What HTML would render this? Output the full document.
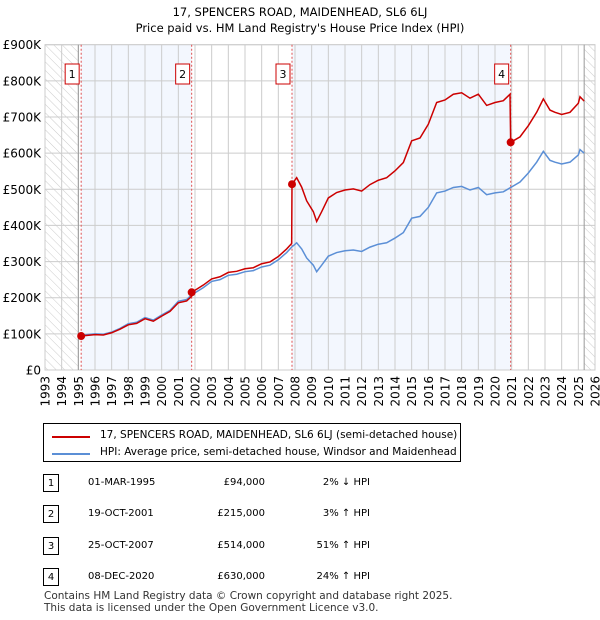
<!DOCTYPE html>
<html><head><meta charset="utf-8"><style>
body{margin:0;background:#fff;font-family:"DejaVu Sans","Liberation Sans",sans-serif;}
#wrap{position:relative;width:600px;height:620px;overflow:hidden}
.t{position:absolute;font-size:10px;color:#000;white-space:nowrap}
.lg{font-size:10.5px}
svg text{font-family:"DejaVu Sans","Liberation Sans",sans-serif}
</style></head><body>
<div id="wrap">
<svg id="chart" width="600" height="420" style="position:absolute;left:0;top:0">
<defs><pattern id="hatch" width="6" height="6" patternUnits="userSpaceOnUse" patternTransform="rotate(-45)"><line x1="0" y1="0" x2="0" y2="6" stroke="#ccc" stroke-width="1"/></pattern></defs>
<text x="300" y="16" text-anchor="middle" font-size="11.5">17, SPENCERS ROAD, MAIDENHEAD, SL6 6LJ</text>
<text x="300" y="32" text-anchor="middle" font-size="11.5">Price paid vs. HM Land Registry's House Price Index (HPI)</text>
<g id="plot"></g>
</svg>
<div style="position:absolute;left:43px;top:423px;width:418px;height:39px;border:1px solid #000;box-sizing:border-box">
 <div style="position:absolute;left:8px;top:12px;width:38px;height:2px;background:#cc0000"></div>
 <div class="t lg" style="left:56px;top:5px">17, SPENCERS ROAD, MAIDENHEAD, SL6 6LJ (semi-detached house)</div>
 <div style="position:absolute;left:8px;top:29px;width:38px;height:2px;background:#5b8fd6"></div>
 <div class="t lg" style="left:56px;top:22px">HPI: Average price, semi-detached house, Windsor and Maidenhead</div>
</div>
<div id="table"></div>
<div class="t lg" style="left:44px;top:590px;color:#333">Contains HM Land Registry data © Crown copyright and database right 2025.</div>
<div class="t lg" style="left:44px;top:602px;color:#333">This data is licensed under the Open Government Licence v3.0.</div>
</div>
<script>
const hpiYears=[1995.17,1996,1996.5,1997,1997.5,1998,1998.5,1999,1999.5,2000,2000.5,2001,2001.5,2001.8,2002.5,2003,2003.5,2004,2004.5,2005,2005.5,2006,2006.5,2007,2007.5,2007.8,2008.1,2008.4,2008.7,2009.1,2009.3,2009.6,2010,2010.5,2011,2011.5,2012,2012.5,2013,2013.5,2014,2014.5,2015,2015.5,2016,2016.5,2017,2017.5,2018,2018.5,2019,2019.5,2020,2020.5,2020.94,2021.5,2022,2022.5,2022.9,2023.3,2023.6,2024,2024.5,2025,2025.1,2025.35];
const hpiValues=[96,100,99,105,115,128,132,145,138,152,165,190,195,208,228,245,250,262,265,272,275,285,290,305,325,340,352,335,310,290,272,290,315,325,330,332,328,340,348,352,365,380,420,425,450,490,495,505,508,498,505,485,490,493,505,520,545,575,605,580,575,570,575,595,610,600];
const redYears=[1995.17,1996,1996.5,1997,1997.5,1998,1998.5,1999,1999.5,2000,2000.5,2001,2001.5,2001.8,2001.81,2002.5,2003,2003.5,2004,2004.5,2005,2005.5,2006,2006.5,2007,2007.5,2007.8,2007.82,2008.1,2008.4,2008.7,2009.1,2009.3,2009.6,2010,2010.5,2011,2011.5,2012,2012.5,2013,2013.5,2014,2014.5,2015,2015.5,2016,2016.5,2017,2017.5,2018,2018.5,2019,2019.5,2020,2020.5,2020.9,2020.94,2021.5,2022,2022.5,2022.9,2023.3,2023.6,2024,2024.5,2025,2025.1,2025.35];
const redValues=[94,98,97,103,113,125,129,142,135,149,162,186,191,204,215,235,252,258,270,273,280,283,294,299,314,335,350,514,532,506,468,438,411,438,476,491,498,501,495,513,525,532,551,574,634,642,680,740,747,763,767,752,763,732,740,745,763,630,645,676,713,750,719,713,707,713,738,756,744];
const saleYears=[1995.17,2001.8,2007.82,2020.94];
const salePrices=[94,215,514,630];
const saleLabels=["1","2","3","4"];
const saleDates=["01-MAR-1995","19-OCT-2001","25-OCT-2007","08-DEC-2020"];
const salePriceText=["£94,000","£215,000","£514,000","£630,000"];
const saleHpiText=["2% ↓ HPI","3% ↑ HPI","51% ↑ HPI","24% ↑ HPI"];
const yTicks=[0,100,200,300,400,500,600,700,800,900];
const yTickLabels=["£0","£100K","£200K","£300K","£400K","£500K","£600K","£700K","£800K","£900K"];
const xStart=1993,xEnd=2026;
const L=45,R=595,T=44.7,B=370;
const X=y=>L+(y-xStart)/(xEnd-xStart)*(R-L);
const Y=v=>B-v/900*(B-T);
const NS="http://www.w3.org/2000/svg";
const g=document.getElementById('plot');
function el(tag,at,parent){const e=document.createElementNS(NS,tag);for(const k in at)e.setAttribute(k,at[k]);(parent||g).appendChild(e);return e;}
let e;
e=el('rect',{x:L,y:T,width:R-L,height:B-T,fill:'#fff',stroke:'#ccc'});


e=el('rect',{x:X(saleYears[0]),y:T,width:X(saleYears[1])-X(saleYears[0]),height:B-T,fill:'#f3f7fe'});


e=el('rect',{x:X(saleYears[2]),y:T,width:X(saleYears[3])-X(saleYears[2]),height:B-T,fill:'#f3f7fe'});


e=el('rect',{x:L,y:T,width:X(1995)-L,height:B-T,fill:'url(#hatch)'});


e=el('rect',{x:X(2025.35),y:T,width:R-X(2025.35),height:B-T,fill:'url(#hatch)'});


for(let yr=xStart;yr<=xEnd;yr++){
 e=el('line',{x1:X(yr),x2:X(yr),y1:T,y2:B,stroke:'#ccc'});
 
 
 e=el('text',{x:0,y:0,'font-size':12,'text-anchor':'end',transform:`translate(${X(yr)+4.5},${B+6}) rotate(-90)`});
 e.textContent=yr;
 
 
}
yTicks.forEach((v,i)=>{
 e=el('line',{x1:L,x2:R,y1:Y(v),y2:Y(v),stroke:'#ccc'});
 
 
 e=el('text',{x:L-4,y:Y(v)+4.5,'font-size':12,'text-anchor':'end'});
 e.textContent=yTickLabels[i];
 
 
});
e=el('line',{x1:X(1995),x2:X(1995),y1:T,y2:B,stroke:'#999'});


e=el('line',{x1:X(2025.35),x2:X(2025.35),y1:T,y2:B,stroke:'#999'});


saleYears.forEach(s=>{
 e=el('line',{x1:X(s),x2:X(s),y1:T,y2:B,stroke:'#e05050','stroke-dasharray':'2,2','stroke-width':1});
 
 
});
e=el('polyline',{points:hpiYears.map((y,i)=>X(y)+','+Y(hpiValues[i])).join(' '),fill:'none',stroke:'#5b8fd6','stroke-width':1.5});


e=el('polyline',{points:redYears.map((y,i)=>X(y)+','+Y(redValues[i])).join(' '),fill:'none',stroke:'#cc0000','stroke-width':1.5});


saleYears.forEach((s,i)=>{
 e=el('circle',{cx:X(s),cy:Y(salePrices[i]),r:4,fill:'#cc0000'});
 
 
 e=el('rect',{x:X(s)-16,y:64,width:14,height:20,fill:'#fff',stroke:'#cc0000'});
 
 
 e=el('text',{x:X(s)-9,y:78,'font-size':11,'text-anchor':'middle'});
 e.textContent=saleLabels[i];
 
 
});
const tb=document.getElementById('table');
const rowY=[484,515,547,578];
saleLabels.forEach((lab,i)=>{
 const r=document.createElement('div');
 
 
 r.style.cssText=`position:absolute;left:0;top:${rowY[i]-10}px;width:600px;height:20px`;
 r.innerHTML=`<div style="position:absolute;left:43px;top:0;width:16px;height:18px;border:1px solid #000;box-sizing:border-box;font-size:10px;text-align:center;line-height:17px">${lab}</div>
 <div class="t" style="left:88px;top:3px">${saleDates[i]}</div>
 <div class="t" style="left:165px;top:3px;width:100px;text-align:right">${salePriceText[i]}</div>
 <div class="t" style="left:270px;top:3px;width:100px;text-align:right">${saleHpiText[i]}</div>`;
 tb.appendChild(r);
});
</script>
</body></html>
